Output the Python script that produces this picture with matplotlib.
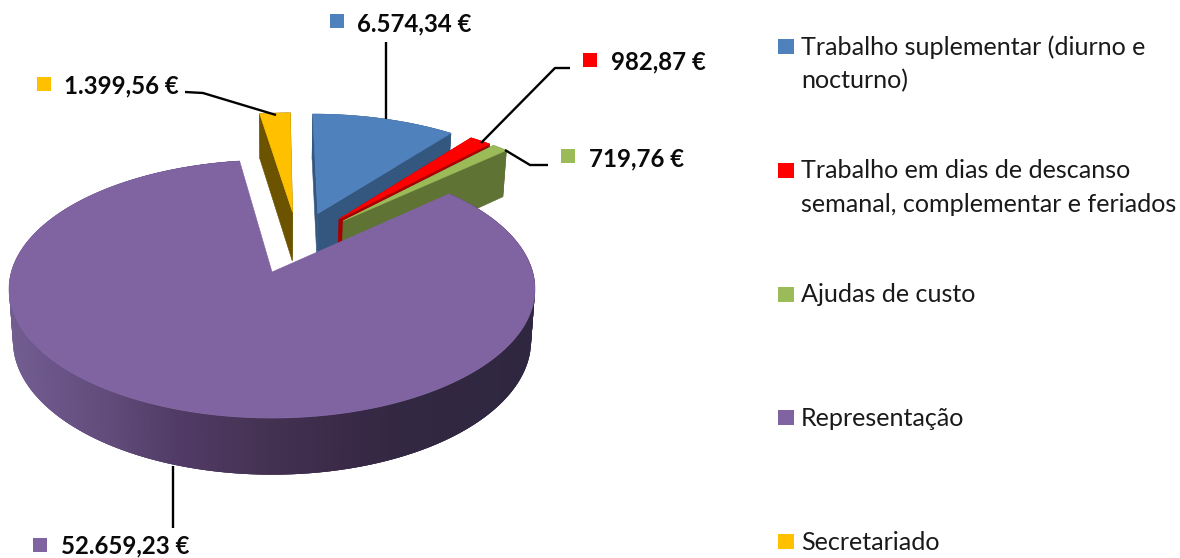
import numpy as np
import matplotlib
matplotlib.use("Agg")
import matplotlib.pyplot as plt
from matplotlib.patches import Polygon, Rectangle
from matplotlib.colors import to_rgb

categories = ["Trabalho suplementar (diurno e\nnocturno)",
              "Trabalho em dias de descanso\nsemanal, complementar e feriados",
              "Ajudas de custo", "Representação", "Secretariado"]
values = [6574.34, 982.87, 719.76, 52659.23, 1399.56]
value_labels = ["6.574,34 €", "982,87 €", "719,76 €", "52.659,23 €", "1.399,56 €"]
colors = ["#4F81BD", "#FF0000", "#9BBB59", "#8064A2", "#FFC000"]
wall_colors = ["#34577F", "#A80000", "#5F7335", None, "#6B5300"]

# pie projection (pixel layout)
CX, CY, RX, RY, K, DEPTH, SHRINK = 272, 272, 260.7, 126.8, 0.132, 51, 0.985
EXPLODE = 0.26
SIDE_SHIFT = 0.014
BIG = 3
draw_order = [4, 0, 1, 2, 3]

fig = plt.figure(figsize=(11.8, 5.58), dpi=100)
ax = fig.add_axes([0, 0, 1, 1])
ax.set_xlim(0, 1180)
ax.set_ylim(558, 0)
ax.axis("off")

def top(X, Y):
    w = 1 + K * Y
    return np.column_stack([CX + RX * X / w, CY - RY * Y / w])

def bot(X, Y):
    w = 1 + K * Y
    return np.column_stack([CX + SHRINK * RX * X / w, CY - SHRINK * RY * Y / w + DEPTH / w])

total = sum(values)
edges = np.concatenate([[0], np.cumsum(values)]) / total * 2 * np.pi
mids = (edges[:-1] + edges[1:]) / 2

def poly(pts, c, z, lw=0.4):
    ax.add_patch(Polygon(pts, closed=True, facecolor=c, edgecolor=c if lw else "none", lw=lw, zorder=z))

stops_x = [10, 60, 120, 175, 250, 340, 400, 535]
stops_c = ["#735E92", "#6B5588", "#5F4A78", "#523C68", "#473456", "#3B2A48", "#322842", "#2F2640"]
stops_rgb = np.array([to_rgb(c) for c in stops_c])

for n, i in enumerate(draw_order):
    ox = EXPLODE * (np.sin(mids[i]) - np.sin(mids[BIG]))
    oy = EXPLODE * (np.cos(mids[i]) - np.cos(mids[BIG]))
    if i != BIG:
        ox += SIDE_SHIFT
    n_pts = max(8, int(np.degrees(edges[i + 1] - edges[i]) * 2))
    th = np.linspace(edges[i], edges[i + 1], n_pts)
    X, Y = ox + np.sin(th), oy + np.cos(th)
    z = 2 + n * 3
    pt, pb = top(X, Y), bot(X, Y)
    at, ab = top(np.array([ox]), np.array([oy])), bot(np.array([ox]), np.array([oy]))
    if i == BIG:
        # each band overlaps the next so no background shows through the seams
        order = sorted(range(n_pts - 1), key=lambda j: pb[j, 0])
        for q_i, j in enumerate(order):
            j2 = min(j + 2, n_pts - 1)
            j1 = max(j - 1, 0)
            xm = (pb[j, 0] + pb[j + 1, 0]) / 2
            c = [np.interp(xm, stops_x, stops_rgb[:, q]) for q in range(3)]
            poly(np.vstack([pt[j1:j2 + 1], pb[j1:j2 + 1][::-1]]), c, z, lw=0)
    else:
        wc = wall_colors[i]
        poly(np.vstack([at, pt[0], pb[0], ab]), wc, z)
        poly(np.vstack([at, pt[-1], pb[-1], ab]), wc, z)
        poly(np.vstack([pt, pb[::-1]]), wc, z)
    poly(np.vstack([at, pt]), colors[i], z + 1)

# leader lines
leaders = [([386, 386], [42, 119]),
           ([570, 555, 481], [68, 68, 143]),
           ([548, 530, 505], [165, 165, 150]),
           ([173, 173], [466, 528]),
           ([185, 203, 276], [92, 93, 115])]
for xs, ys in leaders:
    ax.plot(xs, ys, color="black", lw=1.7, zorder=30, solid_capstyle="butt")

# data labels
lab_sq = [(337, 21), (590, 60), (568, 156), (40, 545), (44, 84)]
lab_tx = [(357, 24), (611, 62), (589, 159), (61, 546), (64, 86)]
for i in range(5):
    ax.add_patch(Rectangle((lab_sq[i][0] - 7, lab_sq[i][1] - 7), 14, 14, facecolor=colors[i], zorder=31))
    ax.text(lab_tx[i][0], lab_tx[i][1], value_labels[i], family="Lato", weight="bold",
            fontsize=17.3, va="center", ha="left", color="#0a0a0a", zorder=31)

# legend
leg_y = [47, 171, 295, 418, 542]
for i in range(5):
    ax.add_patch(Rectangle((778, leg_y[i] - 8.5), 16, 15, facecolor=colors[i], zorder=31))
    lines = categories[i].split("\n")
    for j, t in enumerate(lines):
        ax.text(801, leg_y[i] + j * 33.5, t, family="Lato", fontsize=18.1, va="center", ha="left",
                color="#1a1a1a", zorder=31)

fig.savefig("out.png", dpi=100)
